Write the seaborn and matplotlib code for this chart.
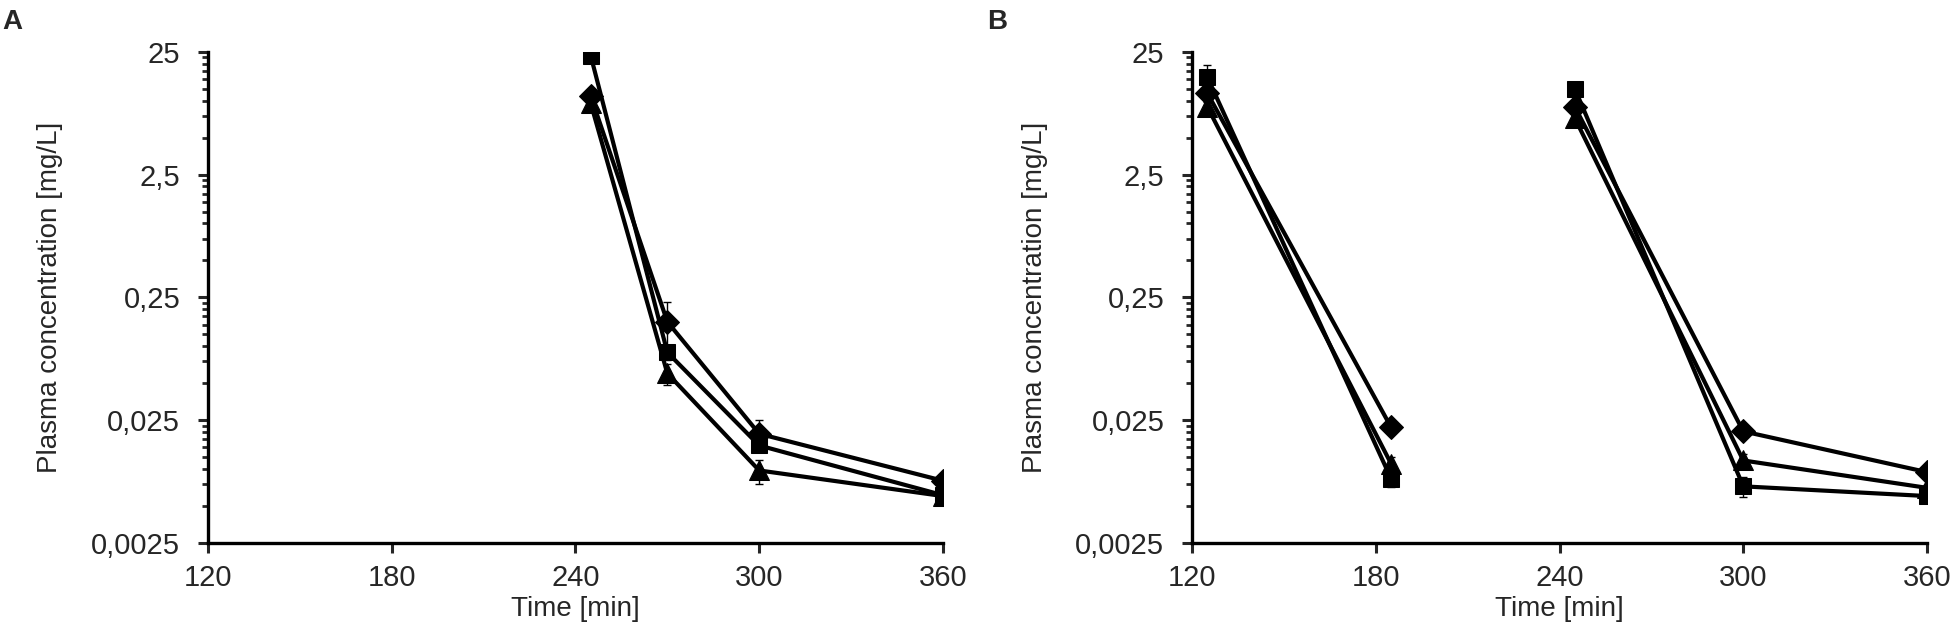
import numpy as np
import pandas as pd
import seaborn as sns
import matplotlib
matplotlib.use("Agg")
import matplotlib.pyplot as plt
from matplotlib.ticker import FixedLocator, NullFormatter

# панель A: время и концентрации
time_a = [245, 270, 300, 360]
square_a = [23.2, 0.089, 0.0155, 0.0061]
diamond_a = [10.9, 0.158, 0.0193, 0.0080]
triangle_a = [9.5, 0.060, 0.0097, 0.0060]
square_a_sd = [0.0, 0.012, 0.0015, 0.0003]
diamond_a_sd = [0.8, 0.07, 0.0055, 0.0004]
triangle_a_sd = [0.6, 0.012, 0.0022, 0.0003]

# панель B: два интервала, разрыв между 185 и 245
time_b = [125, 185, 245, 300, 360]
segment_b = [1, 1, 2, 2, 2]
square_b = [15.5, 0.0083, 12.5, 0.0072, 0.0060]
diamond_b = [11.5, 0.0218, 8.9, 0.0202, 0.0094]
triangle_b = [8.9, 0.0110, 7.2, 0.0117, 0.0070]
square_b_sd = [4.0, 0.0012, 0.5, 0.0013, 0.0004]
diamond_b_sd = [0.8, 0.0020, 0.5, 0.0010, 0.0005]
triangle_b_sd = [0.8, 0.0016, 0.4, 0.0015, 0.0004]

y_ticks = [0.0025, 0.025, 0.25, 2.5, 25]
y_labels = ["0,0025", "0,025", "0,25", "2,5", "25"]
x_ticks = [120, 180, 240, 300, 360]

sns.set_style("white")
plt.rcParams["font.family"] = ["Liberation Sans", "DejaVu Sans"]
FS_TICK = 21
FS_LAB = 20

fig = plt.figure(figsize=(19.51, 6.4), dpi=100)
ax_a = fig.add_axes([0.1066, 0.152, 0.3767, 0.767])
ax_b = fig.add_axes([0.611, 0.152, 0.3767, 0.767])

markers = {"square": ("s", 12), "diamond": ("D", 12), "triangle": ("^", 14)}


def draw(ax, time, series, segments):
    for name, (vals, sd) in series.items():
        df = pd.DataFrame({"time": time, "conc": vals, "sd": sd, "seg": segments})
        m, ms = markers[name]
        ax.errorbar(df["time"], df["conc"], yerr=df["sd"], fmt="none",
                    ecolor="black", elinewidth=1, capsize=3, capthick=1, zorder=1)
        for _, part in df.groupby("seg"):
            sns.lineplot(data=part, x="time", y="conc", ax=ax, color="black",
                         lw=3, marker=m, markersize=ms, markeredgecolor="black",
                         markerfacecolor="black", estimator=None, sort=False,
                         legend=False, zorder=3)


draw(ax_a, time_a, {"square": (square_a, square_a_sd),
                    "diamond": (diamond_a, diamond_a_sd),
                    "triangle": (triangle_a, triangle_a_sd)}, [1] * len(time_a))
draw(ax_b, time_b, {"square": (square_b, square_b_sd),
                    "diamond": (diamond_b, diamond_b_sd),
                    "triangle": (triangle_b, triangle_b_sd)}, segment_b)

minor = [t * k for t in y_ticks[:-1] for k in range(2, 10)]
for ax in (ax_a, ax_b):
    ax.set_yscale("log")
    ax.set_ylim(y_ticks[0], y_ticks[-1])
    ax.set_xlim(x_ticks[0], x_ticks[-1])
    ax.yaxis.set_major_locator(FixedLocator(y_ticks))
    ax.yaxis.set_minor_locator(FixedLocator(minor))
    ax.yaxis.set_minor_formatter(NullFormatter())
    ax.set_yticklabels(y_labels, fontsize=FS_TICK)
    ax.set_xticks(x_ticks)
    ax.set_xticklabels([str(x) for x in x_ticks], fontsize=FS_TICK)
    sns.despine(ax=ax)
    for s in ("left", "bottom"):
        ax.spines[s].set_linewidth(2.4)
        ax.spines[s].set_color("black")
    ax.tick_params(which="major", direction="out", length=7, width=2.2, left=True, bottom=True)
    ax.tick_params(axis="x", which="major", pad=8)
    ax.tick_params(axis="y", which="major", pad=13)
    ax.tick_params(which="minor", direction="out", length=4, width=2, left=True)
    ax.set_xlabel("Time [min]", fontsize=FS_LAB, labelpad=3)
    ax.set_ylabel("Plasma concentration [mg/L]", fontsize=FS_LAB, labelpad=20)
    ax.grid(False)

# буквы панелей
fig.text(0.001, 0.966, "A", fontsize=FS_LAB, fontweight="bold", va="center")
fig.text(0.506, 0.966, "B", fontsize=FS_LAB, fontweight="bold", va="center")

fig.savefig("out.png", dpi=100)
